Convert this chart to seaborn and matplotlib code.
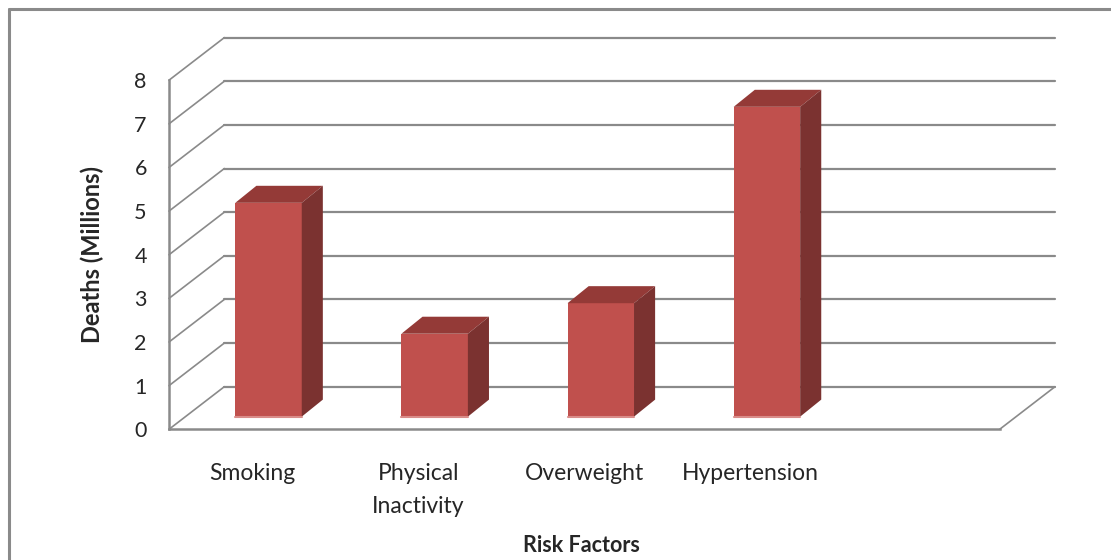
import numpy as np
import pandas as pd
import matplotlib
matplotlib.use("Agg")
import matplotlib.pyplot as plt
from matplotlib.patches import Polygon
import seaborn as sns

# data (millions of deaths)
factors = ["Smoking", "Physical\nInactivity", "Overweight", "Hypertension"]
deaths = [4.9, 1.9, 2.6, 7.1]
slots = factors + [""]          # excel left an empty 5th category
yticks = list(range(9))

df = pd.DataFrame({"factor": factors, "deaths": deaths})

sns.set_style("white")
plt.rcParams["font.family"] = ["Lato", "DejaVu Sans"]

grey = "#8a8a8a"
front_col = "#C0504D"
side_col = "#7B3230"
top_col = "#943A37"

# oblique 3d offsets (data units)
wall_dx, wall_dy = 0.333, 0.976
bar_dx, bar_dy = 0.127, 0.39
pos_dx, pos_dy = 0.099, 0.29

fig = plt.figure(figsize=(11.11, 5.6), dpi=100)
ax = fig.add_axes([169 / 1111, 1 - 429.3 / 560, 886 / 1111, 392 / 560])

sns.barplot(data=df, x="factor", y="deaths", order=slots, color=front_col,
            saturation=1, width=0.4, ax=ax, zorder=3)

# back wall gridlines + left wall diagonals
for k in yticks:
    ax.plot([-0.5 + wall_dx, len(slots) - 0.5 + wall_dx], [k + wall_dy] * 2,
            color=grey, lw=1.6, zorder=1, clip_on=False)
    ax.plot([-0.5, -0.5 + wall_dx], [k, k + wall_dy], color=grey, lw=1.2,
            zorder=1, clip_on=False)
ax.plot([len(slots) - 0.5, len(slots) - 0.5 + wall_dx], [0, wall_dy],
        color=grey, lw=1.2, zorder=1, clip_on=False)

# push bars into the floor and give them depth
for p in ax.patches:
    h = p.get_height()
    if not np.isfinite(h) or h == 0:
        continue
    x0 = p.get_x() + pos_dx
    x1 = x0 + p.get_width()
    y0 = pos_dy
    y1 = pos_dy + h
    p.set_x(x0)
    p.set_y(y0)
    p.set_edgecolor("none")
    ax.add_patch(Polygon([(x0, y1), (x0 + bar_dx, y1 + bar_dy),
                          (x1 + bar_dx, y1 + bar_dy), (x1, y1)],
                         closed=True, fc=top_col, ec="none", zorder=3))
    ax.add_patch(Polygon([(x1, y0), (x1 + bar_dx, y0 + bar_dy),
                          (x1 + bar_dx, y1 + bar_dy), (x1, y1)],
                         closed=True, fc=side_col, ec="none", zorder=3))
    ax.plot([x0, x1], [y0, y0], color="#D98C89", lw=1.5, zorder=4)

ax.set_xlim(-0.5, len(slots) - 0.5 + wall_dx)
ax.set_ylim(0, 8 + wall_dy + 0.007)

for s in ["top", "right"]:
    ax.spines[s].set_visible(False)
ax.spines["left"].set_bounds(0, 8)
ax.spines["bottom"].set_bounds(-0.5, len(slots) - 0.5)
for s in ["left", "bottom"]:
    ax.spines[s].set_color(grey)
    ax.spines[s].set_linewidth(1.8)

ax.set_yticks(yticks)
ax.set_yticklabels([str(v) for v in yticks], fontsize=15.5)
ax.set_xticks(np.arange(-0.5, len(slots), 1))
ax.set_xticklabels([])
ax.set_xticks(range(len(slots)), minor=True)
ax.set_xticklabels(slots, minor=True, fontsize=16.5, linespacing=1.7)
ax.tick_params(axis="y", length=6, width=1.8, color=grey, pad=10)
ax.tick_params(axis="x", which="major", length=6, width=1.8, color=grey)
ax.tick_params(axis="x", which="minor", length=0, pad=24)

ax.set_xlabel("Risk Factors", fontsize=15.5, fontweight="bold")
ax.set_ylabel("Deaths (Millions)", fontsize=17, fontweight="bold")
ax.xaxis.set_label_coords(0.466, -0.27)
ax.yaxis.set_label_coords(-0.073, 0.445)

# chart border (only top and left show in the crop)
fig.add_artist(plt.Line2D([9 / 1111, 1], [1 - 9 / 560] * 2, color=grey, lw=2.2))
fig.add_artist(plt.Line2D([9 / 1111] * 2, [0, 1 - 9 / 560], color=grey, lw=2.2))

fig.savefig("out.png", dpi=100)
